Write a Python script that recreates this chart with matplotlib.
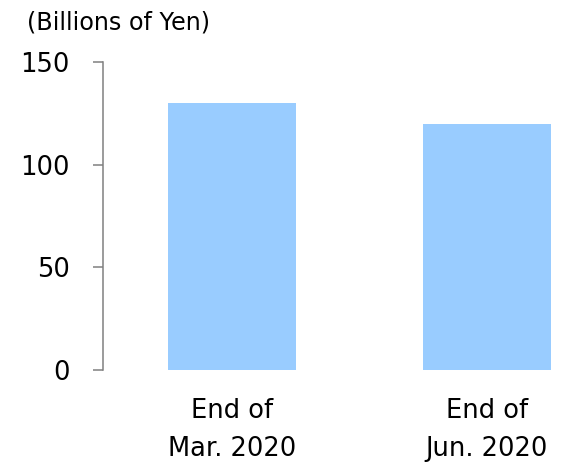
import matplotlib.pyplot as plt

categories = ["End of\nMar. 2020", "End of\nJun. 2020"]
balances = [130, 120]
y_ticks = [0, 50, 100, 150]

fig = plt.figure(figsize=(5.65, 4.65), dpi=100)
ax = fig.add_axes([0.1823, 0.2043, 0.8177, 0.6624])

x = range(len(categories))
ax.bar(x, balances, width=0.5, color="#99CCFF")

ax.set_xlim(-0.506, 1.306)
ax.set_ylim(0, 150)
ax.set_yticks(y_ticks)
ax.set_xticks(list(x))
ax.set_xticklabels(categories, linespacing=1.6)

for side in ["top", "right", "bottom"]:
    ax.spines[side].set_visible(False)
ax.spines["left"].set_color("#808080")
ax.spines["left"].set_linewidth(1.1)

ax.tick_params(axis="y", length=7, width=1.1, color="#808080", pad=17, labelsize=18.5)
ax.tick_params(axis="x", length=0, pad=20, labelsize=18.5)

fig.text(0.048, 0.952, "(Billions of Yen)", fontsize=17.2, va="center", ha="left")

fig.savefig("out.png", dpi=100)
